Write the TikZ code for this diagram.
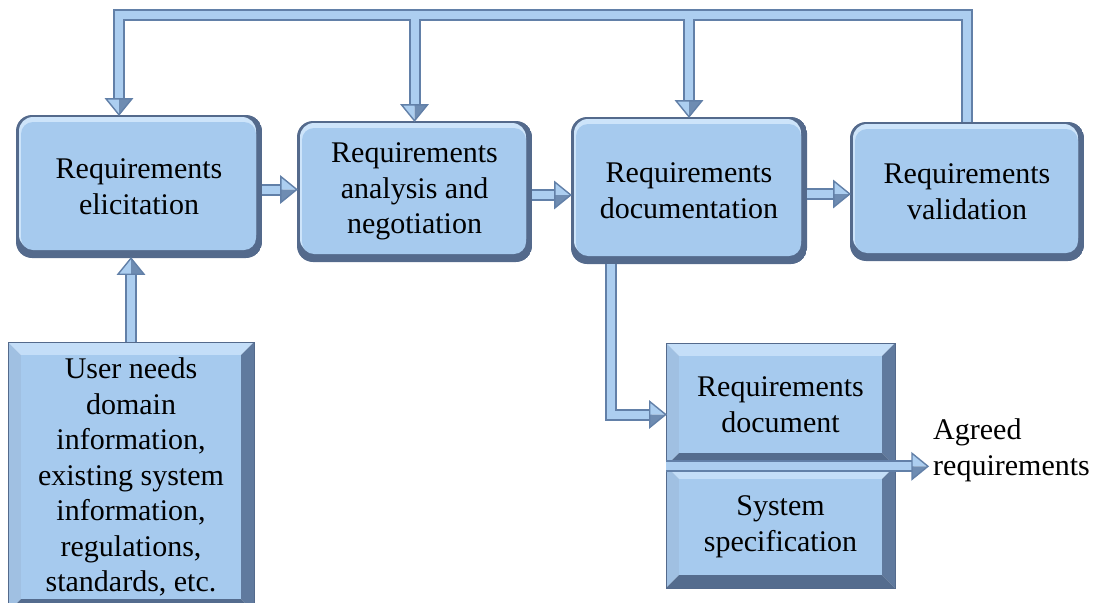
\documentclass[tikz,border=0pt]{standalone}
\usepackage{fontspec}
\setmainfont{LiberationSerif}[Extension=.ttf, UprightFont=*-Regular, BoldFont=*-Bold, ItalicFont=*-Italic, BoldItalicFont=*-BoldItalic]
\usetikzlibrary{calc}

\definecolor{boxFace}{RGB}{166,202,238}
\definecolor{rimLight}{RGB}{205,228,250}
\definecolor{rimDark}{RGB}{84,106,140}
\definecolor{bevTop}{RGB}{196,222,248}
\definecolor{bevLeft}{RGB}{160,192,226}
\definecolor{bevRight}{RGB}{96,122,158}
\definecolor{bevBottom}{RGB}{84,108,142}
\definecolor{barEdge}{RGB}{98,128,168}
\definecolor{barFace}{RGB}{172,206,240}
\definecolor{headDark}{RGB}{110,140,178}

\tikzset{
  lbl/.style={font=\fontsize{30}{35.5}\selectfont, align=center, text=black},
  roundbox/.style 2 args={lbl, rectangle, rounded corners=16pt,
    minimum width=#1, minimum height=#2, inner sep=0pt,
    path picture={
      \coordinate (pNW) at (path picture bounding box.north west);
      \coordinate (pSE) at (path picture bounding box.south east);
      \fill[rimDark] (pNW) rectangle (pSE);
      \fill[rimLight, rounded corners=14pt] ([shift={(3pt,-2pt)}]pNW) rectangle ([shift={(-6pt,9pt)}]pSE);
      \fill[boxFace, rounded corners=12pt] ([shift={(5pt,-7pt)}]pNW) rectangle ([shift={(-6pt,8pt)}]pSE);
    }},
  bevelbox/.style 2 args={lbl, rectangle, minimum width=#1, minimum height=#2,
    inner sep=0pt, draw=rimDark, line width=0.6pt,
    path picture={
      \coordinate (pNW) at (path picture bounding box.north west);
      \coordinate (pNE) at (path picture bounding box.north east);
      \coordinate (pSW) at (path picture bounding box.south west);
      \coordinate (pSE) at (path picture bounding box.south east);
      \fill[bevTop] (pNW) -- (pNE) -- ([shift={(-13pt,-13pt)}]pNE) -- ([shift={(13pt,-13pt)}]pNW) -- cycle;
      \fill[bevLeft] (pNW) -- ([shift={(13pt,-13pt)}]pNW) -- ([shift={(13pt,13pt)}]pSW) -- (pSW) -- cycle;
      \fill[bevRight] (pNE) -- (pSE) -- ([shift={(-13pt,13pt)}]pSE) -- ([shift={(-13pt,-13pt)}]pNE) -- cycle;
      \fill[bevBottom] (pSW) -- ([shift={(13pt,13pt)}]pSW) -- ([shift={(-13pt,13pt)}]pSE) -- (pSE) -- cycle;
      \fill[boxFace] ([shift={(13pt,-13pt)}]pNW) rectangle ([shift={(-13pt,13pt)}]pSE);
    }},
  barouter/.style={line width=12pt, draw=barEdge, line join=miter, shorten >=14pt},
  barinner/.style={line width=8pt, draw=barFace, line join=miter, shorten >=14pt},
  barhead/.style={draw=barEdge, line width=1.4pt, line join=miter},
}

% arrow heads of the bar connectors, placed at their tips:
% a light facet and a shaded facet, then the outline
\newcommand\headdown[1]{%
  \fill[barFace] (#1) -- +(-13,-16) -- +(0,-16) -- cycle;
  \fill[headDark] (#1) -- +(13,-16) -- +(0,-16) -- cycle;
  \draw[barhead] (#1) -- +(-13,-16) -- +(13,-16) -- cycle;}
\newcommand\headup[1]{%
  \fill[barFace] (#1) -- +(-13,16) -- +(0,16) -- cycle;
  \fill[headDark] (#1) -- +(13,16) -- +(0,16) -- cycle;
  \draw[barhead] (#1) -- +(-13,16) -- +(13,16) -- cycle;}
\newcommand\headright[1]{%
  \fill[barFace] (#1) -- +(-16,-13) -- +(-16,0) -- cycle;
  \fill[headDark] (#1) -- +(-16,13) -- +(-16,0) -- cycle;
  \draw[barhead] (#1) -- +(-16,-13) -- +(-16,13) -- cycle;}

\begin{document}
\begin{tikzpicture}[x=1pt, y=-1pt]
  \useasboundingbox (0,0) rectangle (1094,602);

  % process steps
  \node[roundbox={246}{143}] (elic) at (139,186.5) {Requirements\\elicitation};
  \node[roundbox={235}{141}] (ana)  at (414.5,191.5) {Requirements\\analysis and\\negotiation};
  \node[roundbox={236}{147}] (doc)  at (689,190.5) {Requirements\\documentation};
  \node[roundbox={234}{139}] (val)  at (967,191.5) {Requirements\\validation};

  % inputs and outputs
  \node[bevelbox={246}{270}] (usr) at (131,477)
    {User needs\\domain\\information,\\existing system\\information,\\regulations,\\standards, etc.};
  \node[bevelbox={229}{123}] (reqdoc) at (780.5,404.5) {Requirements\\document};
  \node[bevelbox={229}{122}] (sysspec) at (780.5,527) {System\\specification};
  \node[lbl, align=left, anchor=west, inner sep=0pt] (agreed) at (933,450.5) {Agreed\\requirements};

  % helper coordinates for the connector routes
  \coordinate (busL) at (119,15.5);
  \coordinate (r1) at (0,189.5);
  \coordinate (r2) at (0,195);
  \coordinate (r3) at (0,194);
  \coordinate (dd) at (610.5,0);
  \coordinate (agtip) at ([xshift=-5pt]agreed.west |- reqdoc.south);

  % connector shafts: dark rim first, light face on top
  \foreach \layer in {barouter,barinner}{
    \draw[\layer] (val.north) |- (busL) -- (busL |- elic.north);
    \draw[\layer] (ana.north |- busL) -- (ana.north);
    \draw[\layer] (doc.north |- busL) -- (doc.north);
    \draw[\layer] (elic.east |- r1) -- (ana.west |- r1);
    \draw[\layer] (ana.east |- r2) -- (doc.west |- r2);
    \draw[\layer] (doc.east |- r3) -- (val.west |- r3);
    \draw[\layer] (usr.north) -- (usr.north |- elic.south);
    \draw[\layer] (doc.south -| dd) |- ([yshift=-10pt]reqdoc.west);
    \draw[\layer] (reqdoc.south west) -- (agtip);
  }

  % arrow heads
  \headdown{busL |- elic.north}
  \headdown{ana.north}
  \headdown{doc.north}
  \headright{ana.west |- r1}
  \headright{doc.west |- r2}
  \headright{val.west |- r3}
  \headup{usr.north |- elic.south}
  \headright{[yshift=-10pt]reqdoc.west}
  \headright{agtip}
\end{tikzpicture}
\end{document}
